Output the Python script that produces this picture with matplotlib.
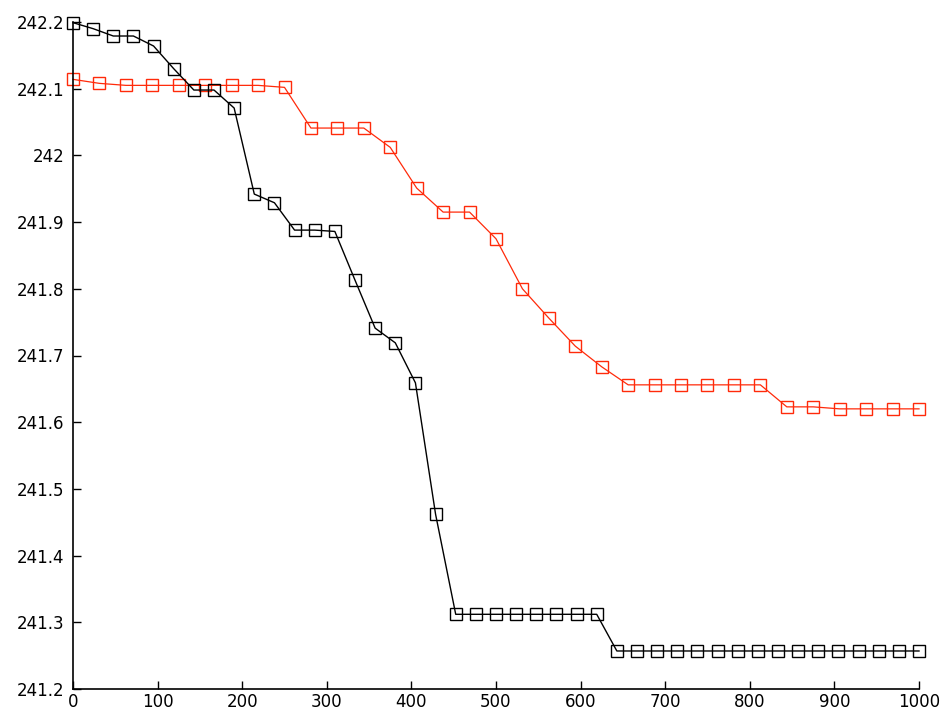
import matplotlib
matplotlib.use('Agg')
import matplotlib.pyplot as plt
import numpy as np
from matplotlib.ticker import FuncFormatter

# black series: 43 evenly spaced samples over 0..1000
black_x = np.linspace(0, 1000, 43)
black_y = [242.199, 242.190, 242.179, 242.179, 242.164, 242.130, 242.098, 242.098,
           242.071, 241.942, 241.929, 241.888, 241.888, 241.886, 241.813, 241.741,
           241.719, 241.659, 241.462, 241.312, 241.312, 241.312, 241.312, 241.312,
           241.312, 241.312, 241.312,
           241.257, 241.257, 241.257, 241.257, 241.257, 241.257, 241.257, 241.257,
           241.257, 241.257, 241.257, 241.257, 241.257, 241.257, 241.257, 241.257]

# red series: 33 evenly spaced samples over 0..1000
red_x = np.linspace(0, 1000, 33)
red_y = [242.114, 242.108, 242.105, 242.105, 242.105, 242.105, 242.105, 242.105,
         242.102, 242.041, 242.041, 242.041, 242.012, 241.951, 241.915, 241.915,
         241.875, 241.800, 241.756, 241.714, 241.683, 241.656, 241.656, 241.656,
         241.656, 241.656, 241.656, 241.623, 241.623, 241.620, 241.620, 241.620,
         241.620]

x_ticks = [0, 100, 200, 300, 400, 500, 600, 700, 800, 900, 1000]
y_ticks = [241.2, 241.3, 241.4, 241.5, 241.6, 241.7, 241.8, 241.9, 242.0, 242.1, 242.2]

fig = plt.figure(figsize=(9.43, 7.13), dpi=100)
ax = fig.add_axes([73 / 943, 24 / 713, 846 / 943, 667 / 713])

ax.plot(black_x, black_y, color='black', linewidth=1.0, marker='s', markersize=8.5,
        markerfacecolor='none', markeredgecolor='black', markeredgewidth=1.0, clip_on=False,
        zorder=3)
ax.plot(red_x, red_y, color='#ff2a0a', linewidth=0.9, marker='s', markersize=8.5,
        markerfacecolor='none', markeredgecolor='#ff2a0a', markeredgewidth=1.0, clip_on=False,
        zorder=2)

ax.set_xlim(0, 1000)
ax.set_ylim(241.2, 242.2)
ax.set_xticks(x_ticks)
ax.set_yticks(y_ticks)
ax.yaxis.set_major_formatter(FuncFormatter(lambda v, p: f'{v:g}'))

# MATLAB-like look: only left/bottom axis lines, inward ticks
for side in ['top', 'right']:
    ax.spines[side].set_visible(False)
for side in ['left', 'bottom']:
    ax.spines[side].set_linewidth(1.2)

ax.tick_params(direction='in', length=6, width=1.0, labelsize=12, colors='black')
ax.tick_params(axis='y', pad=6)
ax.tick_params(axis='x', pad=3)

plt.savefig('out.png', dpi=100)
plt.close()
